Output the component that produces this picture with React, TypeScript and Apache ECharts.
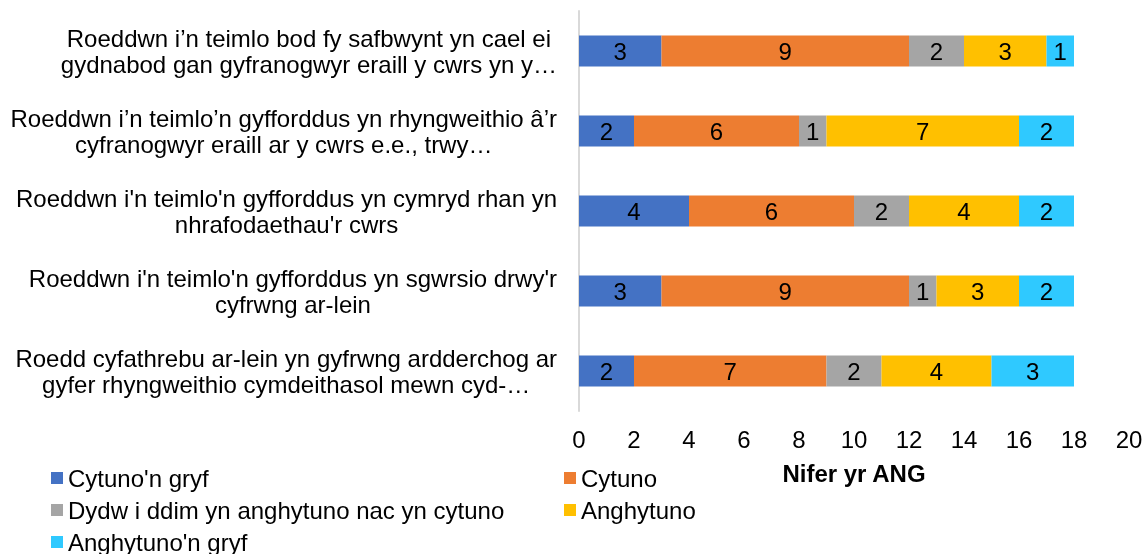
import React, { useEffect, useRef } from "react";
import * as echarts from "echarts";

const categories: string[] = [
  "Roeddwn i’n teimlo bod fy safbwynt yn cael ei\ngydnabod gan gyfranogwyr eraill y cwrs yn y…",
  "Roeddwn i’n teimlo’n gyfforddus yn rhyngweithio â’r\ncyfranogwyr eraill ar y cwrs e.e., trwy…",
  "Roeddwn i'n teimlo'n gyfforddus yn cymryd rhan yn\nnhrafodaethau'r cwrs",
  "Roeddwn i'n teimlo'n gyfforddus yn sgwrsio drwy'r\ncyfrwng ar-lein",
  "Roedd cyfathrebu ar-lein yn gyfrwng ardderchog ar\ngyfer rhyngweithio cymdeithasol mewn cyd-…",
];

const seriesNames: string[] = [
  "Cytuno'n gryf",
  "Cytuno",
  "Dydw i ddim yn anghytuno nac yn cytuno",
  "Anghytuno",
  "Anghytuno'n gryf",
];

const stronglyAgree: number[] = [3, 2, 4, 3, 2];
const agree: number[] = [9, 6, 6, 9, 7];
const neutral: number[] = [2, 1, 2, 1, 2];
const disagree: number[] = [3, 7, 4, 3, 4];
const stronglyDisagree: number[] = [1, 2, 2, 2, 3];

const xTicks = { min: 0, max: 20, interval: 2 };
const axisName = "Nifer yr ANG";

const colors = ["#4472C4", "#ED7D31", "#A5A5A5", "#FFC000", "#2FC9FF"];

const FONT = "'Liberation Sans', Arial, sans-serif";
const FS = 24;

export default function App() {
  const ref = useRef<HTMLDivElement>(null);

  useEffect(() => {
    if (!ref.current) return;
    const chart = echarts.init(ref.current, undefined, { renderer: "svg" });
    const values = [stronglyAgree, agree, neutral, disagree, stronglyDisagree];

    const series = seriesNames.map((name, i) => ({
      name,
      type: "bar" as const,
      stack: "total",
      barWidth: 31,
      data: values[i],
      itemStyle: { color: colors[i] },
      label: {
        show: true,
        position: "inside" as const,
        color: "#000",
        fontSize: FS,
        fontFamily: FONT,
      },
    }));

    const legendText = { fontSize: FS, color: "#000", fontFamily: FONT, lineHeight: 24 };
    const legendBase = {
      orient: "vertical",
      top: 466,
      height: 100,
      padding: 0,
      icon: "rect",
      itemWidth: 12,
      itemHeight: 12,
      itemGap: 8,
      textStyle: legendText,
    };

    chart.setOption({
      animation: false,
      textStyle: { fontFamily: FONT },
      grid: { left: 579, right: 18, top: 11, height: 400 },
      legend: [
        { ...legendBase, left: 51, data: [seriesNames[0], seriesNames[2], seriesNames[4]] },
        { ...legendBase, left: 564, data: [seriesNames[1], seriesNames[3]] },
      ],
      xAxis: {
        type: "value",
        min: xTicks.min,
        max: xTicks.max,
        interval: xTicks.interval,
        axisLine: { show: false },
        axisTick: { show: false },
        splitLine: { show: false },
        axisLabel: { fontSize: FS, color: "#000", margin: 16, fontFamily: FONT },
        name: axisName,
        nameLocation: "middle",
        nameGap: 50,
        nameTextStyle: { fontSize: FS, fontWeight: "bold", color: "#000", fontFamily: FONT },
      },
      yAxis: {
        type: "category",
        inverse: true,
        data: categories,
        axisLine: { show: true, lineStyle: { color: "#D9D9D9", width: 2 } },
        axisTick: { show: false },
        axisLabel: {
          fontSize: FS,
          color: "#000",
          margin: 22,
          align: "right",
          lineHeight: 26,
          fontFamily: FONT,
          formatter: (v: string) =>
            v
              .split("\n")
              .map((l) => `{c|${l}}`)
              .join("\n"),
          rich: {
            c: { align: "center", fontSize: FS, lineHeight: 26, color: "#000", fontFamily: FONT },
          },
        },
      },
      series,
    });

    return () => chart.dispose();
  }, []);

  return (
    <div
      ref={ref}
      style={{ position: "fixed", left: 0, top: 0, width: 1147, height: 554 }}
    />
  );
}
